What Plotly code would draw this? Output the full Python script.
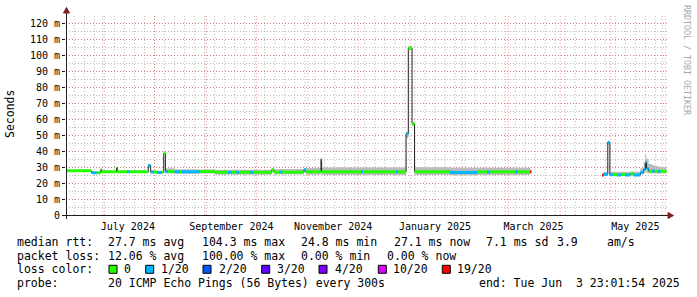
import plotly.graph_objects as go
from datetime import datetime, timedelta

# ---------------- data ----------------
START = "2024-06-08 23:01:54"
END = "2025-06-03 23:01:54"

iv_start = [
    "2024-06-09 00:00", "2024-06-24 06:00", "2024-06-27 06:00", "2024-06-29 18:00", "2024-06-30 06:00",
    "2024-07-09 06:00", "2024-07-09 16:00", "2024-07-15 12:00", "2024-07-17 00:00", "2024-07-28 06:00",
    "2024-07-29 16:00", "2024-07-31 12:00", "2024-08-02 12:00", "2024-08-05 12:00", "2024-08-06 12:00",
    "2024-08-07 12:00", "2024-08-09 00:00", "2024-08-13 00:00", "2024-08-16 00:00", "2024-08-17 12:00",
    "2024-08-28 00:00", "2024-09-06 00:00", "2024-09-14 00:00", "2024-09-16 00:00", "2024-09-19 00:00",
    "2024-09-20 12:00", "2024-09-27 12:00", "2024-09-29 00:00", "2024-10-10 06:00", "2024-10-11 12:00",
    "2024-10-15 00:00", "2024-10-16 12:00", "2024-10-29 12:00", "2024-10-30 16:00", "2024-11-08 16:00",
    "2024-11-09 02:00", "2024-12-02 16:00", "2024-12-03 20:00", "2024-12-23 16:00", "2024-12-24 20:00",
    "2024-12-29 16:00", "2024-12-31 00:00", "2025-01-02 06:00", "2025-01-03 18:00", "2025-01-25 00:00",
    "2025-02-10 06:00", "2025-02-16 06:00", "2025-02-18 00:00", "2025-03-05 00:00", "2025-03-06 12:00",
    "2025-03-14 00:00",
    "2025-04-26 02:00", "2025-04-26 20:00", "2025-04-29 12:00", "2025-04-30 18:00", "2025-05-02 12:00",
    "2025-05-05 00:00", "2025-05-07 12:00", "2025-05-10 00:00", "2025-05-13 00:00", "2025-05-15 00:00",
    "2025-05-19 00:00", "2025-05-21 00:00", "2025-05-22 00:00", "2025-05-22 16:00", "2025-05-24 00:00",
    "2025-05-26 00:00", "2025-05-27 12:00", "2025-05-29 12:00", "2025-05-31 00:00",
]
iv_end = [
    "2024-06-24 06:00", "2024-06-27 06:00", "2024-06-29 18:00", "2024-06-30 06:00", "2024-07-09 06:00",
    "2024-07-09 16:00", "2024-07-15 12:00", "2024-07-17 00:00", "2024-07-28 06:00", "2024-07-29 16:00",
    "2024-07-31 12:00", "2024-08-02 12:00", "2024-08-05 12:00", "2024-08-06 12:00", "2024-08-07 12:00",
    "2024-08-09 00:00", "2024-08-13 00:00", "2024-08-16 00:00", "2024-08-17 12:00", "2024-08-28 00:00",
    "2024-09-06 00:00", "2024-09-14 00:00", "2024-09-16 00:00", "2024-09-19 00:00", "2024-09-20 12:00",
    "2024-09-27 12:00", "2024-09-29 00:00", "2024-10-10 06:00", "2024-10-11 12:00", "2024-10-15 00:00",
    "2024-10-16 12:00", "2024-10-29 12:00", "2024-10-30 16:00", "2024-11-08 16:00", "2024-11-09 02:00",
    "2024-12-02 16:00", "2024-12-03 20:00", "2024-12-23 16:00", "2024-12-24 20:00", "2024-12-29 16:00",
    "2024-12-31 00:00", "2025-01-02 06:00", "2025-01-03 18:00", "2025-01-25 00:00", "2025-02-10 06:00",
    "2025-02-16 06:00", "2025-02-18 00:00", "2025-03-05 00:00", "2025-03-06 12:00", "2025-03-14 00:00",
    "2025-03-14 16:00",
    "2025-04-26 20:00", "2025-04-29 12:00", "2025-04-30 18:00", "2025-05-02 12:00", "2025-05-05 00:00",
    "2025-05-07 12:00", "2025-05-10 00:00", "2025-05-13 00:00", "2025-05-15 00:00", "2025-05-19 00:00",
    "2025-05-21 00:00", "2025-05-22 00:00", "2025-05-22 16:00", "2025-05-24 00:00", "2025-05-26 00:00",
    "2025-05-27 12:00", "2025-05-29 12:00", "2025-05-31 00:00", "2025-06-03 16:00",
]
median_ms = [
    27.7, 26.4, 26.4, 28.3, 27.0,
    29.5, 27.0, 27.0, 27.0, 31.0,
    26.8, 26.8, 26.5, 26.8, 38.5,
    27.2, 27.2, 27.0, 27.0, 27.0,
    27.2, 26.7, 26.7, 26.7, 26.7,
    26.7, 26.7, 26.7, 28.3, 26.8,
    26.8, 26.8, 28.3, 27.0, 35.0,
    27.0, 27.0, 27.0, 27.0, 27.0,
    50.8, 104.3, 57.0, 27.0, 26.6,
    27.0, 26.8, 27.0, 27.0, 27.0,
    27.0,
    24.8, 25.4, 45.4, 25.2, 25.2,
    25.0, 25.4, 25.0, 25.8, 25.0,
    26.6, 28.5, 32.9, 29.0, 27.3,
    27.5, 27.3, 27.3, 27.3,
]
loss_20 = [
    0, 1, 0, 0, 0,
    0, 0, 1, 0, 1,
    1, 0, 1, 0, 0,
    1, 0, 1, 0, 1,
    0, 0, 1, 0, 1,
    0, 1, 0, 0, 0,
    1, 0, 1, 0, 0,
    0, 1, 0, 1, 0,
    1, 0, 0, 0, 1,
    0, 1, 0, 1, 0,
    19,
    19, 1, 1, 1, 0,
    1, 0, 1, 0, 1,
    1, 1, 1, 1, 0,
    1, 0, 1, 0,
]
smoke_lo = [
    27.3, 25.9, 25.9, 27.5, 26.4,
    28.5, 26.4, 26.4, 26.4, 29.5,
    26.2, 26.2, 25.9, 26.2, 37.5,
    26.0, 26.0, 25.8, 25.8, 25.8,
    26.0, 25.2, 25.2, 25.2, 25.2,
    25.2, 25.2, 25.2, 27.3, 25.3,
    25.3, 25.3, 26.8, 25.2, 33.5,
    25.0, 25.0, 25.0, 25.0, 25.0,
    48.0, 103.0, 55.5, 25.0, 24.9,
    25.0, 25.0, 25.0, 25.0, 25.0,
    26.0,
    24.4, 24.6, 44.0, 24.4, 24.4,
    24.4, 24.4, 24.4, 24.6, 24.4,
    25.4, 26.3, 27.8, 26.3, 25.9,
    25.9, 25.9, 25.9, 26.0,
]
smoke_hi = [
    28.2, 27.2, 27.2, 29.0, 27.8,
    30.0, 27.8, 27.9, 27.8, 31.6,
    28.0, 27.8, 27.6, 27.8, 39.0,
    29.0, 29.2, 28.6, 28.6, 28.6,
    28.5, 28.3, 28.3, 28.3, 28.3,
    28.3, 28.3, 28.3, 29.2, 28.6,
    28.8, 28.8, 29.4, 29.3, 35.6,
    29.7, 29.7, 29.7, 29.7, 29.7,
    52.0, 105.5, 58.0, 29.8, 29.6,
    29.6, 29.6, 29.6, 29.6, 29.6,
    28.5,
    25.8, 26.8, 46.2, 27.0, 27.0,
    26.8, 27.0, 26.8, 27.2, 27.0,
    29.2, 33.0, 37.7, 35.0, 31.8,
    31.2, 30.8, 30.2, 29.8,
]

loss_levels = [0, 1, 2, 3, 4, 10, 19]
loss_labels = ["0", "1/20", "2/20", "3/20", "4/20", "10/20", "19/20"]
loss_colors = ["#26ff00", "#00b8ff", "#0059ff", "#5e00ff", "#7e00ff", "#dd00ff", "#ff0000"]

y_tick_vals = [0, 10, 20, 30, 40, 50, 60, 70, 80, 90, 100, 110, 120]
y_tick_text = ["0", "10 m", "20 m", "30 m", "40 m", "50 m", "60 m", "70 m", "80 m",
               "90 m", "100 m", "110 m", "120 m"]
x_tick_months = ["2024-07", "2024-09", "2024-11", "2025-01", "2025-03", "2025-05"]
x_tick_text = ["July 2024", "September 2024", "November 2024", "January 2025", "March 2025", "May 2025"]

legend_rows = [
    [("median rtt:", 16), ("27.7 ms avg", 107.3), ("104.3 ms max", 201), ("24.8 ms min", 300),
     ("27.1 ms now", 393.3), ("7.1 ms sd", 485), ("3.9", 556), ("am/s", 606.7)],
    [("packet loss:", 16), ("12.06 % avg", 107.3), ("100.00 % max", 201), ("0.00 % min", 300),
     ("0.00 % now", 386)],
    [("loss color:", 16)],
    [("probe:", 16), ("20 ICMP Echo Pings (56 Bytes) every 300s", 107.3),
     ("end: Tue Jun  3 23:01:54 2025", 478.3)],
]
legend_row_y = [242, 255.5, 269.3, 283]
loss_box_x = [109, 145.7, 203, 261.7, 319, 378.3, 442.3]
loss_text_x = [123, 160, 218, 276.7, 334, 392.3, 456.7]

# ---------------- geometry helpers ----------------
L, R, T, B = 66, 30, 15, 82
W, H = 697, 297
PW, PH = W - L - R, H - T - B


def px(x):
    return (x - L) / PW


def py(y):
    return (T + PH - y) / PH


FONT = "DejaVu Sans Mono"
MAJOR = "rgba(222,79,79,0.55)"
MINOR = "rgba(143,143,143,0.6)"
DOT = "1px,2px"
TXT_SHIFT = 1.5  # annotation box padding compensation

fig = go.Figure()

# smoke
sx, sy = [], []
for s, e, lo, hi in zip(iv_start, iv_end, smoke_lo, smoke_hi):
    sx += [s, s, e, e, s, None]
    sy += [lo, hi, hi, lo, lo, None]
fig.add_trace(go.Scatter(x=sx, y=sy, mode="lines", fill="toself", fillcolor="#bcbcbc",
                         line=dict(width=0), hoverinfo="skip", showlegend=False))

# black median line (with gap where data missing)
mx, my = [], []
n = len(iv_start)
for i in range(n):
    mx += [iv_start[i], iv_end[i]]
    my += [median_ms[i], median_ms[i]]
    if i == n - 1 or iv_end[i] != iv_start[i + 1]:
        mx.append(None)
        my.append(None)
fig.add_trace(go.Scatter(x=mx, y=my, mode="lines", line=dict(color="#202020", width=1),
                         hoverinfo="skip", showlegend=False))

# loss-coloured median band
for lvl, col in zip(loss_levels, loss_colors):
    cx, cy = [], []
    for s, e, v, l in zip(iv_start, iv_end, median_ms, loss_20):
        if l == lvl:
            cx += [s, e, None]
            cy += [v, v, None]
    if cx:
        fig.add_trace(go.Scatter(x=cx, y=cy, mode="lines", line=dict(color=col, width=3),
                                 hoverinfo="skip", showlegend=False))

shapes = []
# vertical grid: minor every 6 days, major at month starts
t0 = datetime(2024, 6, 8)
t_end = datetime(2025, 6, 3, 23, 1, 54)
t = t0
while t < t_end:
    shapes.append(dict(type="line", xref="x", yref="paper", x0=t, x1=t, y0=0, y1=1,
                       line=dict(color=MINOR, width=1, dash=DOT), layer="below"))
    t += timedelta(days=6)
y_, m_ = 2024, 7
while datetime(y_, m_, 1) < t_end:
    d = datetime(y_, m_, 1)
    shapes.append(dict(type="line", xref="x", yref="paper", x0=d, x1=d, y0=0, y1=1,
                       line=dict(color=MAJOR, width=1, dash=DOT), layer="below"))
    m_ += 1
    if m_ > 12:
        m_, y_ = 1, y_ + 1

AXIS = "#1f1f1f"
ARROW = "#801f1f"
shapes.append(dict(type="line", xref="paper", yref="paper", x0=px(66.5), x1=px(66.5),
                   y0=py(219), y1=py(12), line=dict(color=AXIS, width=1)))
shapes.append(dict(type="line", xref="paper", yref="paper", x0=px(62), x1=px(669),
                   y0=py(215.5), y1=py(215.5), line=dict(color=AXIS, width=1)))
shapes.append(dict(type="path", xref="paper", yref="paper",
                   path=f"M {px(63.5)} {py(13)} L {px(69.5)} {py(13)} L {px(66.5)} {py(7.5)} Z",
                   fillcolor=ARROW, line=dict(color=ARROW, width=1)))
shapes.append(dict(type="path", xref="paper", yref="paper",
                   path=f"M {px(668)} {py(212.5)} L {px(668)} {py(218.5)} L {px(673.5)} {py(215.5)} Z",
                   fillcolor=ARROW, line=dict(color=ARROW, width=1)))

annotations = []
for row, yy in zip(legend_rows, legend_row_y):
    for txt, xx in row:
        annotations.append(dict(text=txt, x=px(xx - TXT_SHIFT), y=py(yy), xref="paper", yref="paper",
                                xanchor="left", yanchor="middle", showarrow=False,
                                font=dict(family=FONT, size=11.5, color="black")))
for bx, tx, lab, col in zip(loss_box_x, loss_text_x, loss_labels, loss_colors):
    shapes.append(dict(type="rect", xref="paper", yref="paper",
                       x0=px(bx), x1=px(bx + 8), y0=py(265.3), y1=py(273.3),
                       fillcolor=col, line=dict(color="black", width=1)))
    annotations.append(dict(text=lab, x=px(tx - TXT_SHIFT), y=py(269.3), xref="paper", yref="paper",
                            xanchor="left", yanchor="middle", showarrow=False,
                            font=dict(family=FONT, size=11.5, color="black")))

annotations.append(dict(text="Seconds", x=px(10), y=py(114), xref="paper", yref="paper",
                        textangle=-90, showarrow=False, xanchor="center", yanchor="middle",
                        font=dict(family=FONT, size=11.5, color="black")))
annotations.append(dict(text="RRDTOOL / TOBI OETIKER", x=px(687), y=py(60), xref="paper",
                        yref="paper", textangle=90, showarrow=False, xanchor="center",
                        yanchor="middle", font=dict(family=FONT, size=8.3, color="#a8a8a8")))

x_tick_vals = [datetime.strptime(m + "-01", "%Y-%m-%d") + timedelta(days=15) for m in x_tick_months]

fig.update_layout(
    width=W, height=H,
    margin=dict(l=L, r=R, t=T, b=B, pad=0),
    paper_bgcolor="white", plot_bgcolor="white",
    showlegend=False,
    shapes=shapes, annotations=annotations,
    xaxis=dict(type="date", range=[START, END], showgrid=False, zeroline=False, showline=False,
               tickmode="array", tickvals=x_tick_vals, ticktext=x_tick_text, ticks="",
               ticklabelstandoff=4,
               tickfont=dict(family=FONT, size=10, color="black"), fixedrange=True),
    yaxis=dict(range=[0, 125], tickmode="array", tickvals=y_tick_vals, ticktext=y_tick_text,
               showgrid=True, gridcolor=MAJOR, griddash=DOT, gridwidth=1, zeroline=False,
               showline=False, ticks="outside", ticklen=3, tickcolor=AXIS,
               tickfont=dict(family=FONT, size=10, color="black"),
               minor=dict(dtick=5, tick0=0, showgrid=True, gridcolor=MINOR, griddash=DOT,
                          ticks=""),
               fixedrange=True),
)

fig.write_html("out.html")
